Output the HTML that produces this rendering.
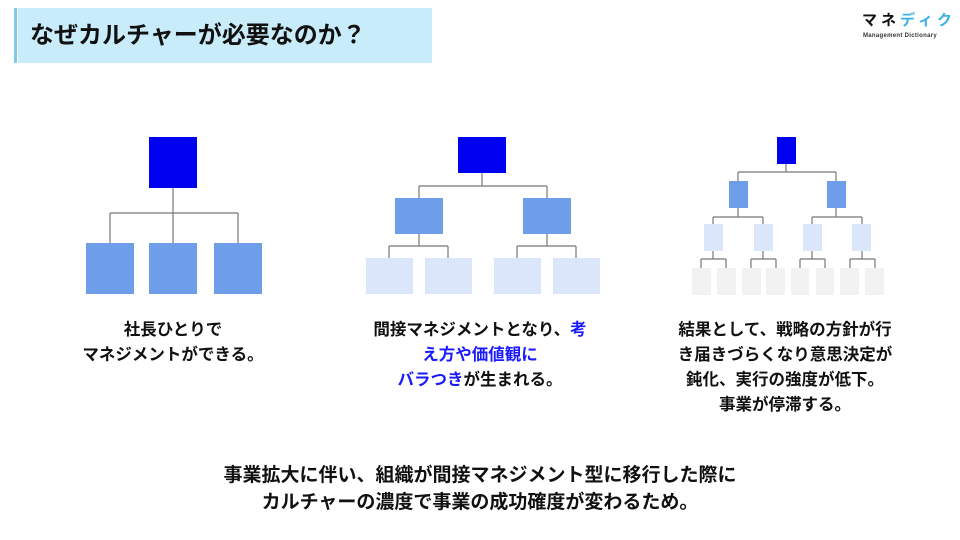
<!DOCTYPE html>
<html><head><meta charset="utf-8"><style>
*{margin:0;padding:0;box-sizing:border-box}
body{width:960px;height:540px;background:#fff;position:relative;overflow:hidden;font-family:"Liberation Sans","Noto Sans CJK JP",sans-serif;}
.t{position:absolute;font-weight:bold;color:#111;text-align:center;font-size:16.5px;line-height:25px;white-space:nowrap}
.b{color:#1a1aff}
svg{position:absolute;left:0;top:0}
</style></head><body>
<div style="position:absolute;left:14px;top:8px;width:3px;height:55px;background:#7fc8ee"></div>
<div style="position:absolute;left:18px;top:8px;width:414px;height:55px;background:#c9ecfa"></div>
<div style="position:absolute;left:30px;top:8px;height:55px;line-height:55px;font-size:24px;font-weight:bold;color:#111">なぜカルチャーが必要なのか？</div>
<div style="position:absolute;left:862px;top:12px;font-size:15px;font-weight:bold;letter-spacing:4px;color:#111;white-space:nowrap;line-height:18px">マネ<span style="color:#3ab0e6">ディク</span></div>
<div style="position:absolute;left:863px;top:33px;font-size:6px;font-weight:bold;color:#333;letter-spacing:0.3px;white-space:nowrap">Management Dictionary</div>
<svg width="960" height="540">
<g stroke="#777" stroke-width="1.2" fill="none">
<path d="M173 188V213M110 213H238M110 213V243M173 213V243M238 213V243"/>
<path d="M482 173V186M419 186H547M419 186V198M547 186V198M419 234V246M389 246H448M389 246V258M448 246V258M547 234V246M517 246H576M517 246V258M576 246V258"/>
<path d="M786 164V172M738 172H836M738 172V181M836 172V181
M738 208V217M713 217H763M713 217V224M763 217V224
M836 208V217M812 217H862M812 217V224M862 217V224
M713 251V259M701 259H726M701 259V268M726 259V268
M763 251V259M751 259H776M751 259V268M776 259V268
M812 251V259M800 259H825M800 259V268M825 259V268
M862 251V259M850 259H875M850 259V268M875 259V268"/>
</g>
<g>
<rect x="149" y="137" width="48" height="51" fill="#0000f0"/>
<rect x="86" y="243" width="48" height="51" fill="#6e9eea"/>
<rect x="149" y="243" width="48" height="51" fill="#6e9eea"/>
<rect x="214" y="243" width="48" height="51" fill="#6e9eea"/>
<rect x="458" y="137" width="48" height="36" fill="#0000f0"/>
<rect x="395" y="198" width="48" height="36" fill="#6e9eea"/>
<rect x="523" y="198" width="48" height="36" fill="#6e9eea"/>
<g fill="#dbe6fa"><rect x="366" y="258" width="47" height="36"/><rect x="425" y="258" width="47" height="36"/><rect x="494" y="258" width="47" height="36"/><rect x="553" y="258" width="47" height="36"/></g>
<rect x="777" y="137" width="19" height="27" fill="#0000f0"/>
<rect x="729" y="181" width="19" height="27" fill="#6e9eea"/>
<rect x="827" y="181" width="19" height="27" fill="#6e9eea"/>
<g fill="#dbe6fa"><rect x="704" y="224" width="19" height="27"/><rect x="754" y="224" width="19" height="27"/><rect x="803" y="224" width="19" height="27"/><rect x="852" y="224" width="19" height="27"/></g>
<g fill="#f2f2f2"><rect x="692" y="268" width="19" height="27"/><rect x="717" y="268" width="19" height="27"/><rect x="742" y="268" width="19" height="27"/><rect x="766" y="268" width="19" height="27"/><rect x="791" y="268" width="18" height="27"/><rect x="816" y="268" width="18" height="27"/><rect x="840" y="268" width="19" height="27"/><rect x="865" y="268" width="19" height="27"/></g>
</g>
</svg>
<div class="t" style="left:73px;width:200px;top:318px">社長ひとりで<br>マネジメントができる。</div>
<div class="t" style="left:330px;width:300px;top:318px">間接マネジメントとなり、<span class="b">考</span><br><span class="b">え方や価値観に</span><br><span class="b">バラつき</span>が生まれる。</div>
<div class="t" style="left:625px;width:320px;top:318px">結果として、戦略の方針が行<br>き届きづらくなり意思決定が<br>鈍化、実行の強度が低下。<br>事業が停滞する。</div>
<div class="t" style="left:130px;width:700px;top:462px;line-height:27px;font-size:19px">事業拡大に伴い、組織が間接マネジメント型に移行した際に<br>カルチャーの濃度で事業の成功確度が変わるため。</div>
</body></html>
